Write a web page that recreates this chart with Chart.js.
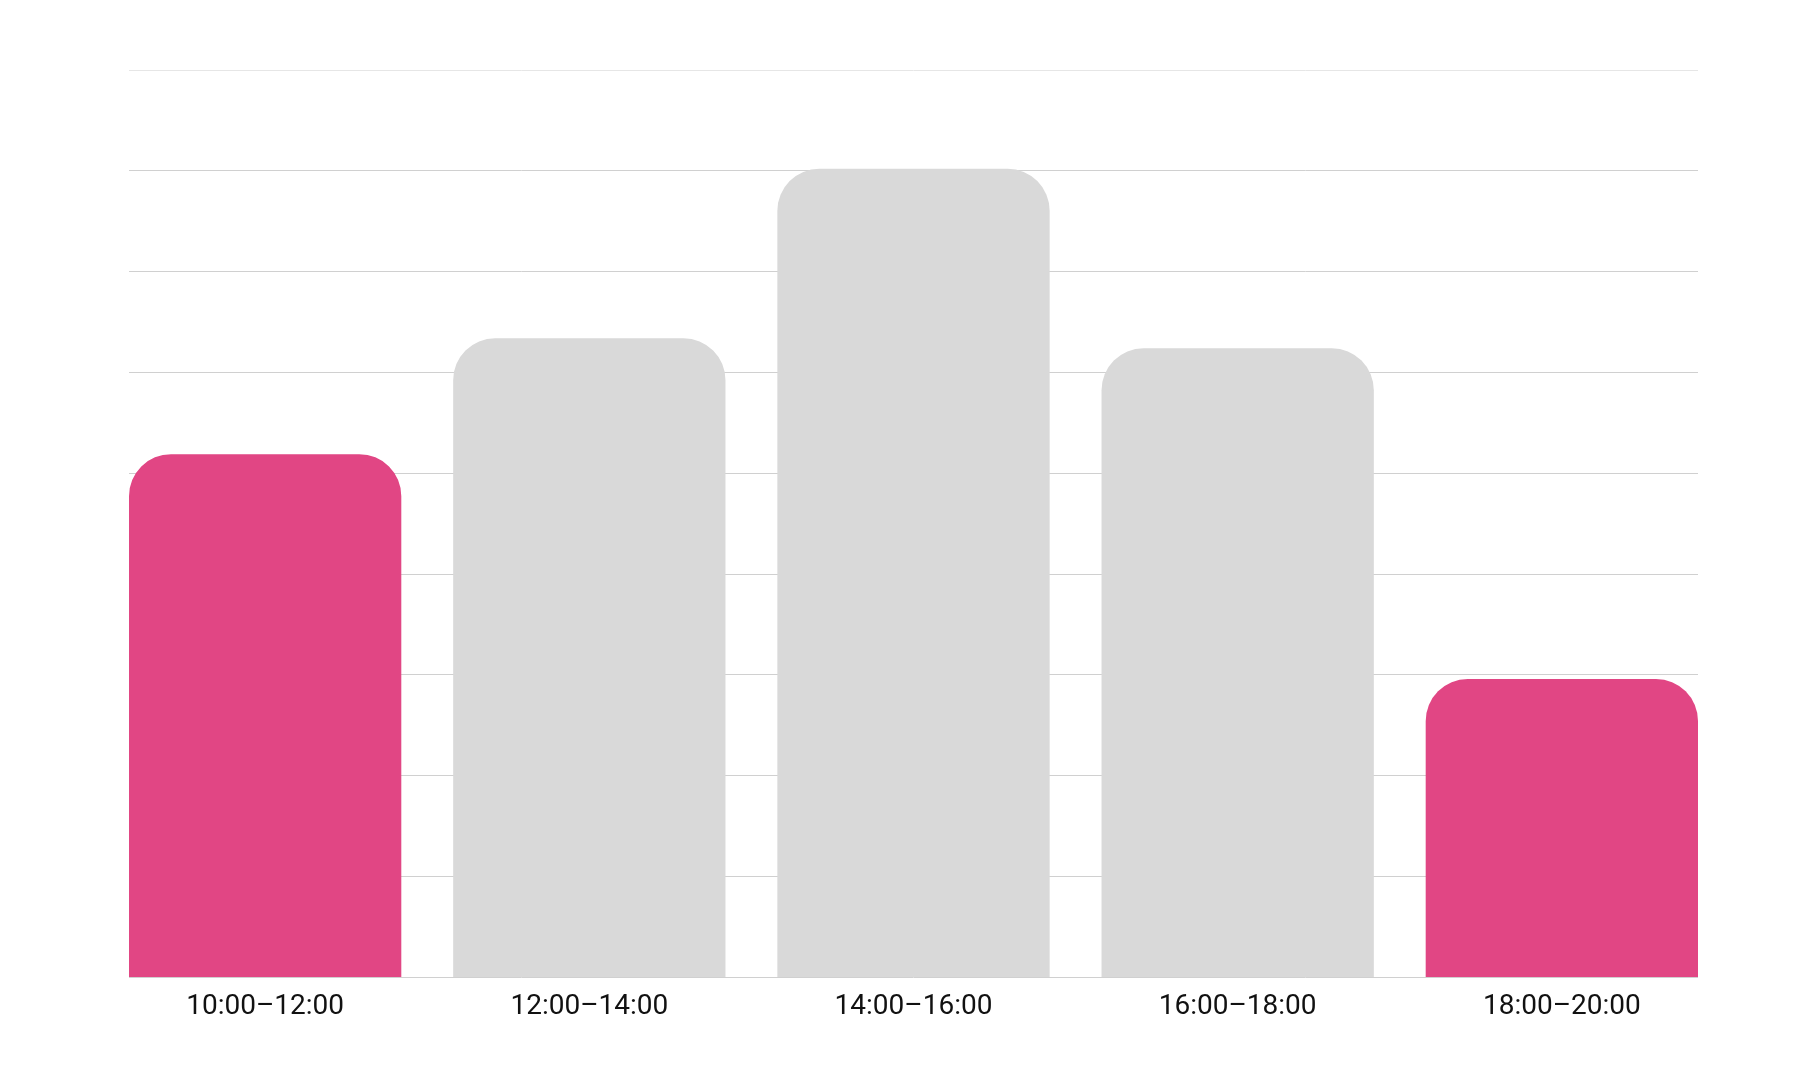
<!DOCTYPE html>
<html>
<head>
<meta charset="utf-8">
<script src="https://cdn.jsdelivr.net/npm/chart.js@4/dist/chart.umd.min.js"></script>
<style>
  html, body { margin: 0; padding: 0; background: #fff; }
  #wrap { width: 1800px; height: 1074px; }
</style>
</head>
<body>
<div id="wrap"><canvas id="slotChart" width="1800" height="1074"></canvas></div>
<script>
const slots = ['10:00–12:00', '12:00–14:00', '14:00–16:00', '16:00–18:00', '18:00–20:00'];
const visits = [5.19, 6.34, 8.02, 6.24, 2.96];
const highlight = [true, false, false, false, true];
const yTicks = [0, 1, 2, 3, 4, 5, 6, 7, 8, 9];

const pink = '#e14684';
const grey = '#d9d9d9';

const points = visits.map((v, i) => ({ x: i, y: v }));

const ctx = document.getElementById('slotChart').getContext('2d');
new Chart(ctx, {
  type: 'bar',
  data: {
    datasets: [{
      data: points,
      backgroundColor: highlight.map(h => h ? pink : grey),
      borderWidth: 0,
      borderRadius: 42,
      borderSkipped: 'start',
      categoryPercentage: 1,
      barPercentage: 0.84
    }]
  },
  options: {
    responsive: false,
    animation: false,
    devicePixelRatio: 1,
    layout: { padding: { left: 129, right: 102, top: 70, bottom: 37 } },
    plugins: { legend: { display: false }, tooltip: { enabled: false } },
    scales: {
      x: {
        type: 'linear',
        offset: false,
        min: -0.42,
        max: 4.42,
        grid: { display: false, drawTicks: false },
        border: { display: false },
        ticks: {
          stepSize: 1,
          includeBounds: false,
          autoSkip: false,
          maxRotation: 0,
          padding: 13,
          color: '#111',
          font: { family: 'Roboto', size: 28 },
          callback: v => slots[v]
        }
      },
      y: {
        min: yTicks[0],
        max: yTicks[yTicks.length - 1],
        afterBuildTicks: axis => { axis.ticks = yTicks.map(v => ({ value: v })); },
        ticks: { display: false },
        border: { display: false },
        grid: {
          drawTicks: false,
          lineWidth: 1,
          color: c => c.index === yTicks.length - 1 ? '#e6e6e6' : '#d0d0d0'
        }
      }
    }
  }
});
</script>
</body>
</html>
